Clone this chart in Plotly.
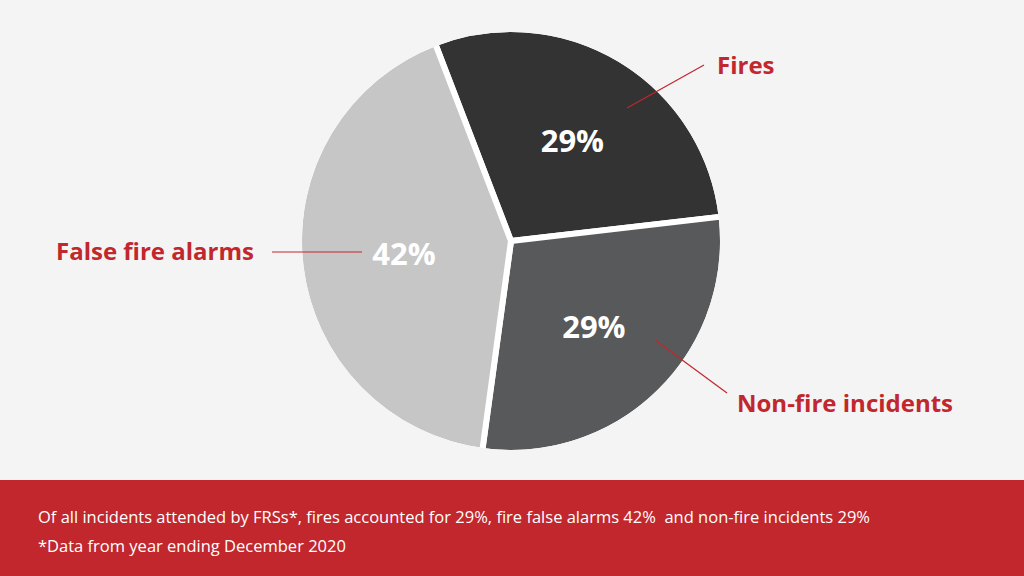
import plotly.graph_objects as go

categories = ["Fires", "Non-fire incidents", "False fire alarms"]
shares = [29, 29, 42]
slice_colors = ["#333333", "#58595b", "#c6c6c6"]
footer_lines = [
    "Of all incidents attended by FRSs*, fires accounted for 29%, fire false alarms 42%  and non-fire incidents 29%",
    "*Data from year ending December 2020",
]

W, H = 1024, 576
RED = "#c1272d"
BG = "#f4f4f4"
CX, CY, R = 511, 241, 212  # pie centre / radius in pixels (outer stroke masked)

fig = go.Figure(go.Pie(
    labels=categories,
    values=shares,
    sort=False,
    direction="clockwise",
    rotation=-21,
    marker=dict(colors=slice_colors, line=dict(color="#ffffff", width=6)),
    texttemplate="%{percent:.0%}",
    textposition="inside",
    insidetextorientation="horizontal",
    textfont=dict(family="Open Sans", size=31, color="#ffffff", weight="bold"),
    domain=dict(x=[(CX - R) / W, (CX + R) / W], y=[(H - CY - R) / H, (H - CY + R) / H]),
    showlegend=False,
    hoverinfo="label+percent",
))

shapes = [
    dict(type="rect", xref="paper", yref="paper", x0=0, x1=1, y0=0, y1=96 / H,
         fillcolor=RED, line=dict(width=0), layer="below"),
    # mask the outer white stroke so only the gaps between slices stay white
    dict(type="circle", xref="paper", yref="paper", layer="above",
         x0=(CX - R - 0.5) / W, x1=(CX + R + 0.5) / W,
         y0=(H - CY - R - 0.5) / H, y1=(H - CY + R + 0.5) / H,
         line=dict(color=BG, width=7), fillcolor="rgba(0,0,0,0)"),
]
leaders = [((627, 108), (704, 65)), ((655, 340), (727, 393)), ((272, 252), (362, 252))]
for (x0, y0), (x1, y1) in leaders:
    shapes.append(dict(type="line", xref="paper", yref="paper",
                       x0=x0 / W, y0=1 - y0 / H, x1=x1 / W, y1=1 - y1 / H,
                       line=dict(color=RED, width=1.2)))

annotations = []
label_pos = [(746, 64), (845, 402), (155, 251)]
for name, (x, y) in zip(categories, label_pos):
    annotations.append(dict(text=name, xref="paper", yref="paper", x=x / W, y=1 - y / H,
                            xanchor="center", yanchor="middle", showarrow=False,
                            font=dict(family="Open Sans", size=24, color=RED, weight="bold")))
for i, line in enumerate(footer_lines):
    annotations.append(dict(text=line, xref="paper", yref="paper", x=36 / W, y=1 - (516 + 29 * i) / H,
                            xanchor="left", yanchor="middle", showarrow=False,
                            font=dict(family="Open Sans", size=16.5, color="#ffffff")))

fig.update_layout(
    width=W, height=H,
    margin=dict(l=0, r=0, t=0, b=0),
    paper_bgcolor=BG,
    plot_bgcolor=BG,
    shapes=shapes,
    annotations=annotations,
)

fig.write_html("out.html", config={"displayModeBar": False},
               post_script="document.body.style.margin='0';document.body.style.background='" + BG + "';")
